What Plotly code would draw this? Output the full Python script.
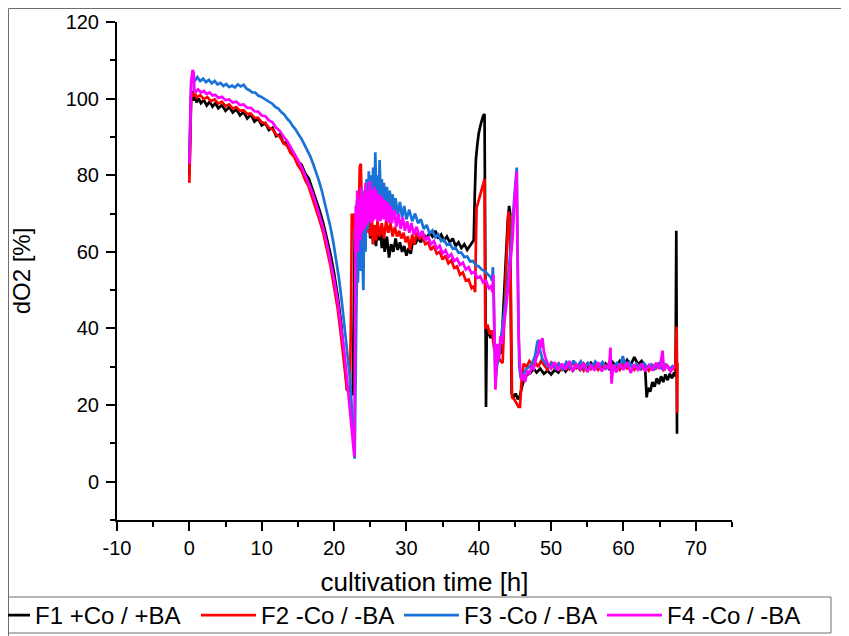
import plotly.graph_objects as go

# ---------------- data (time [h], dO2 [%]) ----------------
f1_points = [
    (0.0, 80), (0.1, 92), (0.25, 101), (0.4, 102), (0.6, 99.5), (0.8, 100.5), (1.0, 99), (1.3, 100),
    (1.6, 98.8), (2.0, 99.6), (2.4, 98.2), (2.8, 99.2), (3.2, 97.9), (3.6, 98.8), (4.0, 97.5), (4.5, 98.3),
    (5.0, 96.8), (5.5, 97.8), (6.0, 96.4), (6.5, 97.2), (7.0, 95.6), (7.5, 96.5), (8.0, 94.8), (8.5, 95.8),
    (9.0, 94.0), (9.5, 94.8), (10.0, 93.0), (10.5, 93.6), (11.0, 91.8), (11.5, 92.4), (12.0, 90.2), (12.5, 90.6),
    (13.0, 88.4), (13.5, 88.6), (14.0, 86.0), (14.5, 85.4), (15.0, 83.6), (15.5, 82.8), (16.0, 80.5), (16.5, 79.2),
    (17.0, 76.5), (17.5, 74.0), (18.0, 70.8), (18.5, 67.5), (19.0, 63.5), (19.5, 59.5), (20.0, 54.5), (20.5, 48.5),
    (21.0, 41.0), (21.3, 35.0), (21.6, 27.5), (21.8, 24.0), (22.0, 23.5), (22.3, 25), (22.5, 23.5), (22.6, 22.5),
    (22.7, 40), (22.8, 60), (22.9, 70), (23.0, 66), (23.2, 73.5), (23.4, 68), (23.6, 70.5), (23.8, 65.5),
    (24.0, 69), (24.2, 64), (24.4, 70), (24.6, 66), (24.8, 71), (25.0, 63.5), (25.2, 68), (25.4, 62),
    (25.6, 66.5), (25.8, 61.5), (26.0, 67.5), (26.2, 63), (26.4, 65.5), (26.6, 61), (26.8, 64.5), (27.0, 60),
    (27.3, 64), (27.6, 58.5), (27.9, 62), (28.2, 60), (28.5, 63.5), (28.8, 60.5), (29.1, 62.5), (29.4, 60),
    (29.7, 61.5), (30.0, 59), (30.3, 61), (30.6, 59.5), (30.9, 63), (31.2, 62), (31.6, 63.5), (32.0, 62.5),
    (32.4, 64.5), (32.8, 63.5), (33.2, 65), (33.6, 64), (34.0, 65.5), (34.4, 63.5), (34.8, 64.5), (35.2, 63),
    (35.6, 64), (36.0, 62.5), (36.4, 63.5), (36.8, 61.5), (37.2, 62.5), (37.6, 61), (38.0, 62), (38.4, 60.5),
    (38.8, 61.5), (39.1, 62.5), (39.3, 63), (39.45, 75), (39.6, 84), (39.8, 88), (40.0, 91), (40.3, 93.5),
    (40.6, 95.5), (40.8, 96), (40.9, 60), (41.0, 19.5), (41.1, 38), (41.3, 40), (41.6, 37.5), (41.9, 38.5),
    (42.2, 36), (42.5, 35), (42.8, 34), (43.1, 33.5), (43.4, 45), (43.7, 60), (44.0, 68), (44.2, 72),
    (44.35, 70), (44.45, 40), (44.55, 23), (44.8, 22), (45.1, 23), (45.4, 21.5), (45.7, 22.5), (46.0, 25),
    (46.4, 27.5), (46.8, 28), (47.2, 28.5), (47.6, 29.5), (48.0, 28.5), (48.5, 29.5), (49.0, 28.2), (49.5, 29.0),
    (50.0, 28.0), (50.5, 29.2), (51.0, 28.5), (51.5, 30.0), (52.0, 28.8), (52.5, 30.2), (53.0, 29.0), (53.5, 30.5),
    (54.0, 29.2), (54.5, 30.8), (55.0, 29.5), (55.5, 31.0), (56.0, 29.8), (56.5, 30.6), (57.0, 29.2), (57.5, 30.8),
    (58.0, 29.5), (58.5, 31.2), (59.0, 30.0), (59.5, 31.5), (60.0, 30.2), (60.5, 31.8), (61.0, 30.5), (61.5, 32.5),
    (62.0, 30.6), (62.5, 31.5), (63.0, 29.5), (63.2, 22.0), (63.4, 24.5), (63.7, 23.5), (64.0, 26.0), (64.3, 24.8),
    (64.6, 27.0), (64.9, 25.5), (65.2, 27.5), (65.5, 26.0), (65.8, 28.0), (66.1, 26.5), (66.4, 28.2), (66.7, 27.0),
    (67.0, 28.5), (67.2, 27.5), (67.3, 65.5), (67.35, 40), (67.4, 12.5),
]

f2_points = [
    (0.0, 78), (0.1, 90), (0.25, 100.5), (0.4, 101.5), (0.6, 100.6), (0.8, 101.3), (1.0, 100.3), (1.5, 100.9),
    (2.0, 99.9), (2.5, 100.4), (3.0, 99.3), (3.5, 99.8), (4.0, 98.7), (4.5, 99.2), (5.0, 98.0), (5.5, 98.5),
    (6.0, 97.4), (6.5, 97.8), (7.0, 96.8), (7.5, 97.0), (8.0, 96.0), (8.5, 96.1), (9.0, 95.0), (9.5, 95.0),
    (10.0, 93.8), (10.5, 93.6), (11.0, 92.4), (11.5, 92.0), (12.0, 90.6), (12.5, 90.1), (13.0, 88.4), (13.5, 87.7),
    (14.0, 85.8), (14.5, 84.7), (15.0, 82.6), (15.5, 81.2), (16.0, 78.8), (16.5, 77.0), (17.0, 74.1), (17.5, 71.7),
    (18.0, 68.2), (18.5, 65.0), (19.0, 60.6), (19.5, 56.4), (20.0, 50.8), (20.5, 45.2), (21.0, 37.5), (21.3, 32),
    (21.6, 26.5), (21.8, 23.8), (22.0, 25), (22.2, 24), (22.35, 45), (22.45, 70), (22.6, 66), (22.8, 70),
    (23.0, 60), (23.2, 72), (23.4, 68), (23.55, 82), (23.7, 83), (23.85, 70), (24.0, 74), (24.2, 66),
    (24.4, 72), (24.6, 65), (24.8, 71), (25.0, 64), (25.2, 69), (25.4, 62), (25.6, 67), (25.8, 63),
    (26.0, 68), (26.3, 64), (26.6, 67.5), (26.9, 63.5), (27.2, 68), (27.5, 65), (27.8, 67.5), (28.1, 64),
    (28.4, 66.5), (28.7, 64), (29.0, 65.5), (29.3, 63.5), (29.6, 65), (29.9, 62.5), (30.2, 64), (30.5, 60.5),
    (30.8, 64.5), (31.1, 62), (31.4, 65), (31.8, 63.5), (32.2, 64), (32.6, 62), (33.0, 62.5), (33.4, 60.5),
    (33.8, 61.5), (34.2, 59.5), (34.6, 60), (35.0, 58), (35.4, 59), (35.8, 57), (36.2, 57.8), (36.6, 55.8),
    (37.0, 56.2), (37.4, 54), (37.8, 54.6), (38.2, 52.5), (38.6, 52.8), (39.0, 50.5), (39.3, 51), (39.5, 49.5),
    (39.6, 62), (39.7, 71.5), (40.0, 73.5), (40.4, 76), (40.7, 78.5), (40.8, 79), (40.85, 55), (40.9, 40),
    (41.2, 41), (41.5, 38.5), (41.8, 39.5), (42.1, 35), (42.4, 33.5), (42.7, 32.5), (43.0, 31.5), (43.3, 31),
    (43.6, 45), (43.9, 62), (44.1, 70.5), (44.3, 69), (44.45, 35), (44.6, 22), (44.9, 21.5), (45.2, 20.5),
    (45.5, 19.5), (45.7, 19.5), (45.9, 26), (46.2, 30.8), (46.6, 30), (47.0, 31.5), (47.4, 30.5), (47.8, 31.2),
    (48.2, 30), (48.6, 31.5), (49.0, 30.5), (49.5, 29.2), (50.0, 31.0), (50.5, 29.6), (51.0, 30.8), (51.5, 29.0),
    (52.0, 30.6), (52.5, 29.4), (53.0, 31.2), (53.5, 29.6), (54.0, 30.4), (54.5, 29.0), (55.0, 30.8), (55.5, 29.4),
    (56.0, 30.6), (56.5, 29.2), (57.0, 30.8), (57.5, 29.6), (58.0, 31.0), (58.5, 29.4), (59.0, 30.6), (59.5, 29.2),
    (60.0, 30.8), (60.5, 29.6), (61.0, 30.4), (61.5, 29.2), (62.0, 30.6), (62.5, 29.4), (63.0, 30.2), (63.5, 29.0),
    (64.0, 30.4), (64.5, 29.6), (65.0, 30.8), (65.5, 29.2), (66.0, 30.4), (66.5, 29.0), (67.0, 29.6), (67.2, 30.5),
    (67.3, 38), (67.35, 40.5), (67.42, 18), (67.47, 31),
]

f3_points = [
    (0.0, 85), (0.1, 95), (0.25, 104), (0.5, 105.5), (0.8, 104.8), (1.1, 105.6), (1.5, 104.6), (1.9, 105.2),
    (2.3, 104.3), (2.7, 104.9), (3.1, 104.0), (3.5, 104.6), (3.9, 103.7), (4.3, 104.1), (4.7, 103.3), (5.1, 103.8),
    (5.5, 103.0), (5.9, 103.4), (6.3, 102.9), (6.7, 103.7), (7.1, 103.2), (7.5, 103.6), (7.9, 102.6), (8.3, 102.2),
    (8.7, 101.6), (9.1, 101.6), (9.5, 100.8), (9.9, 100.5), (10.3, 100.0), (10.7, 99.6), (11.1, 98.9), (11.5, 98.6),
    (11.9, 97.8), (12.3, 97.4), (12.7, 96.5), (13.1, 95.9), (13.5, 94.8), (13.9, 94.0), (14.3, 92.8), (14.7, 91.9),
    (15.1, 90.6), (15.5, 89.5), (15.9, 88.0), (16.3, 86.6), (16.7, 85.0), (17.1, 83.0), (17.5, 81.0), (17.9, 78.6),
    (18.3, 76.0), (18.7, 73.0), (19.1, 70.0), (19.5, 66.5), (19.9, 62.5), (20.3, 58.0), (20.7, 52.8), (21.1, 46.5),
    (21.5, 40), (21.9, 33.5), (22.2, 27), (22.5, 18), (22.7, 10), (22.85, 6), (23.0, 30), (23.1, 50),
    (23.2, 62), (23.3, 52), (23.45, 70), (23.6, 55), (23.75, 75), (23.9, 60), (24.05, 50), (24.2, 76),
    (24.35, 60), (24.5, 79), (24.65, 66), (24.8, 81), (24.95, 68), (25.1, 80), (25.25, 70), (25.4, 82),
    (25.55, 71), (25.7, 86), (25.85, 72), (26.0, 80), (26.15, 71), (26.3, 84), (26.45, 72), (26.6, 79),
    (26.75, 71), (26.9, 78), (27.1, 71), (27.3, 77), (27.5, 70.5), (27.7, 76), (27.9, 70), (28.1, 75),
    (28.3, 70), (28.5, 74), (28.8, 69.5), (29.1, 73), (29.4, 69), (29.7, 72), (30.0, 68.5), (30.4, 71),
    (30.8, 68), (31.2, 70), (31.6, 67.5), (32.0, 68.5), (32.4, 66), (32.8, 67), (33.2, 64.8), (33.6, 65.6),
    (34.0, 63.8), (34.4, 64.5), (34.8, 62.8), (35.2, 63.2), (35.6, 61.8), (36.0, 62.2), (36.4, 60.8), (36.8, 61.0),
    (37.2, 59.8), (37.6, 59.8), (38.0, 58.6), (38.4, 58.8), (38.8, 57.5), (39.2, 57.6), (39.6, 56.5), (40.0, 56.2),
    (40.4, 55.4), (40.8, 55.0), (41.2, 54.2), (41.6, 53.5), (41.85, 52.5), (41.95, 56), (42.05, 50), (42.15, 35),
    (42.3, 26), (42.5, 30), (42.8, 33), (43.1, 38), (43.4, 42), (43.7, 47), (44.0, 52), (44.3, 58),
    (44.6, 65), (44.9, 74), (45.1, 79), (45.25, 82), (45.35, 60), (45.45, 40), (45.6, 30), (45.8, 27),
    (46.0, 27.5), (46.3, 28.5), (46.6, 29.5), (47.0, 30), (47.4, 31), (47.8, 33), (48.1, 36.5), (48.3, 37),
    (48.5, 34), (48.8, 32), (49.2, 31), (49.6, 30), (50.1, 31.0), (50.6, 29.6), (51.1, 30.8), (51.6, 29.4),
    (52.1, 31.2), (52.6, 29.8), (53.1, 31.6), (53.6, 30.0), (54.1, 31.4), (54.6, 29.6), (55.1, 31.0), (55.6, 29.8),
    (56.1, 31.4), (56.6, 30.0), (57.1, 31.2), (57.6, 29.6), (58.1, 30.8), (58.6, 29.8), (59.1, 31.0), (59.6, 30.2),
    (59.9, 32.8), (60.3, 30.0), (60.8, 31.2), (61.3, 29.6), (61.8, 30.8), (62.3, 29.4), (62.8, 31.0), (63.3, 29.8),
    (63.8, 30.6), (64.3, 29.4), (64.8, 30.8), (65.3, 29.6), (65.8, 30.6), (66.3, 29.4), (66.8, 30.2), (67.0, 29.8),
]

f4_points = [
    (0.0, 83), (0.1, 96), (0.25, 104.5), (0.45, 107.5), (0.6, 106.8), (0.7, 102), (0.9, 101.8), (1.2, 102.4),
    (1.6, 101.6), (2.0, 102.0), (2.4, 101.2), (2.8, 101.6), (3.2, 100.8), (3.6, 101.0), (4.0, 100.2), (4.5, 100.5),
    (5.0, 99.6), (5.5, 99.8), (6.0, 99.0), (6.5, 99.2), (7.0, 98.3), (7.5, 98.5), (8.0, 97.6), (8.5, 97.6),
    (9.0, 96.7), (9.5, 96.6), (10.0, 95.6), (10.5, 95.4), (11.0, 94.3), (11.5, 93.8), (12.0, 92.4), (12.5, 91.6),
    (13.0, 90.1), (13.5, 89.0), (14.0, 87.4), (14.5, 85.8), (15.0, 84.0), (15.5, 82.2), (16.0, 80.0), (16.5, 78.0),
    (17.0, 75.5), (17.5, 72.6), (18.0, 69.6), (18.5, 66.2), (19.0, 62.2), (19.5, 57.8), (20.0, 52.8), (20.5, 47.2),
    (21.0, 40.5), (21.4, 34), (21.8, 26.5), (22.1, 20.5), (22.4, 15), (22.6, 10), (22.8, 6.5), (22.9, 40),
    (23.0, 72), (23.1, 62), (23.2, 76), (23.3, 60), (23.45, 74), (23.6, 63), (23.75, 77), (23.9, 65),
    (24.05, 75), (24.2, 66), (24.35, 78), (24.5, 67), (24.65, 76), (24.8, 68), (24.95, 78.5), (25.1, 67.5),
    (25.25, 76), (25.4, 68), (25.55, 77), (25.7, 68.5), (25.85, 76), (26.0, 68), (26.2, 75), (26.4, 68),
    (26.6, 74.5), (26.8, 68.5), (27.0, 73.5), (27.2, 68), (27.4, 73), (27.6, 67.5), (27.8, 72), (28.0, 67.5),
    (28.3, 71), (28.6, 66.5), (28.9, 70), (29.2, 66), (29.5, 69), (29.8, 65.5), (30.1, 68), (30.4, 65),
    (30.7, 67.5), (31.0, 64.5), (31.4, 66.5), (31.8, 64), (32.2, 65.5), (32.6, 63), (33.0, 64), (33.4, 62),
    (33.8, 62.8), (34.2, 60.8), (34.6, 61.6), (35.0, 59.6), (35.4, 60.4), (35.8, 58.6), (36.2, 59.4), (36.6, 57.6),
    (37.0, 58.2), (37.4, 56.6), (37.8, 57.2), (38.2, 55.4), (38.6, 56), (39.0, 54.4), (39.4, 54.8), (39.8, 53.2),
    (40.2, 53.6), (40.6, 52), (41.0, 52.4), (41.4, 50.5), (41.7, 51), (41.9, 49.5), (42.0, 54), (42.1, 45),
    (42.2, 30), (42.3, 24), (42.45, 30), (42.6, 36), (42.8, 32), (43.0, 38), (43.2, 36), (43.5, 42),
    (43.8, 46), (44.1, 51.5), (44.4, 57), (44.7, 64), (44.9, 72), (45.1, 77), (45.25, 81), (45.35, 62),
    (45.5, 38), (45.7, 30), (45.9, 26.5), (46.1, 28), (46.4, 26), (46.7, 29), (47.0, 28), (47.3, 30),
    (47.6, 29.5), (47.9, 32), (48.2, 33.5), (48.45, 37), (48.6, 35), (48.8, 37.5), (49.0, 34), (49.2, 32.5),
    (49.5, 31), (50.0, 29.5), (50.5, 31.2), (51.0, 29.0), (51.5, 30.8), (52.0, 29.2), (52.5, 31.5), (53.0, 28.8),
    (53.5, 30.6), (54.0, 29.4), (54.5, 31.0), (55.0, 28.6), (55.5, 30.4), (56.0, 29.0), (56.5, 31.2), (57.0, 28.8),
    (57.5, 30.2), (58.0, 29.5), (58.2, 35), (58.35, 25.6), (58.6, 30.5), (59.0, 28.6), (59.5, 30.8), (60.0, 29.2),
    (60.5, 31.2), (61.0, 28.4), (61.5, 30.6), (62.0, 29.2), (62.5, 30.8), (63.0, 28.8), (63.5, 30.4), (64.0, 29.0),
    (64.5, 31.0), (65.0, 29.4), (65.4, 34.2), (65.6, 29.0), (66.0, 30.5), (66.5, 28.8), (67.0, 30.2),
]

series_names = ["F1 +Co / +BA", "F2 -Co / -BA", "F3 -Co / -BA", "F4 -Co / -BA"]
series_points = [f1_points, f2_points, f3_points, f4_points]

x_tick_values = [-10, 0, 10, 20, 30, 40, 50, 60, 70]
x_tick_labels = ["-10", "0", "10", "20", "30", "40", "50", "60", "70"]
y_tick_values = [0, 20, 40, 60, 80, 100, 120]
y_tick_labels = ["0", "20", "40", "60", "80", "100", "120"]

x_title = "cultivation time [h]"
y_title = "dO2 [%]"

# ---------------- styling / layout ----------------
colors = ["#000000", "#ff0000", "#1872d8", "#ff00ff"]
FONT = "Liberation Sans, Arial, sans-serif"

# the page adds an 8 px body margin, so the figure is 8 px smaller than the window
W, H = 841, 628
ML, MR, MT, MB = 109, 117, 14, 116
PW = W - ML - MR
PH = H - MT - MB


def px_x(px):
    return (px - ML) / PW


def px_y(py):
    return (H - MB - py) / PH


legend_ids = ["legend", "legend2", "legend3", "legend4"]
legend_item_width = 55
legend_left_px = [-38, 188, 391, 594]
legend_top_px = 585

fig = go.Figure()
for name, pts, col, lid in zip(series_names, series_points, colors, legend_ids):
    fig.add_trace(go.Scatter(
        x=[p[0] for p in pts], y=[p[1] for p in pts], mode="lines", name=name,
        line=dict(color=col, width=2.7), legend=lid,
    ))

axis_common = dict(
    showline=True, linecolor="black", linewidth=2, mirror=False,
    ticks="outside", ticklen=9, tickwidth=2, tickcolor="black",
    showgrid=False, zeroline=False, automargin=False,
    tickfont=dict(family=FONT, size=20, color="black"),
)

legend_layouts = {}
for lid, lx in zip(legend_ids, legend_left_px):
    legend_layouts[lid] = dict(
        orientation="h", x=px_x(lx), xanchor="left", y=px_y(legend_top_px), yanchor="top",
        font=dict(family=FONT, size=24, color="black"), itemwidth=legend_item_width,
        bgcolor="rgba(0,0,0,0)", borderwidth=0,
    )

fig.update_layout(
    width=W, height=H, autosize=False,
    margin=dict(l=ML, r=MR, t=MT, b=MB, pad=0, autoexpand=False),
    paper_bgcolor="white", plot_bgcolor="white",
    font=dict(family=FONT, color="black"),
    xaxis=dict(
        range=[-10, 75], tickmode="array", tickvals=x_tick_values, ticktext=x_tick_labels,
        minor=dict(dtick=5, tick0=0, ticks="outside", ticklen=5, tickwidth=2, tickcolor="black", showgrid=False),
        title=dict(text=x_title, font=dict(family=FONT, size=26, color="black"), standoff=15),
        **axis_common,
    ),
    yaxis=dict(
        range=[-10, 120], tickmode="array", tickvals=y_tick_values, ticktext=y_tick_labels,
        minor=dict(dtick=10, tick0=0, ticks="outside", ticklen=5, tickwidth=2, tickcolor="black", showgrid=False),
        title=dict(text=y_title, font=dict(family=FONT, size=24, color="black"), standoff=30),
        ticklabelstandoff=3,
        **axis_common,
    ),
    showlegend=True,
    shapes=[
        dict(type="rect", xref="paper", yref="paper",
             x0=px_x(0.5), x1=px_x(840), y0=px_y(650), y1=px_y(0.5),
             line=dict(color="#6e6e6e", width=1), fillcolor="rgba(0,0,0,0)", layer="below"),
        dict(type="rect", xref="paper", yref="paper",
             x0=px_x(0.5), x1=px_x(823), y0=px_y(625), y1=px_y(589),
             line=dict(color="#6e6e6e", width=1), fillcolor="rgba(0,0,0,0)", layer="below"),
    ],
    **legend_layouts,
)

fig.write_html("out.html")
